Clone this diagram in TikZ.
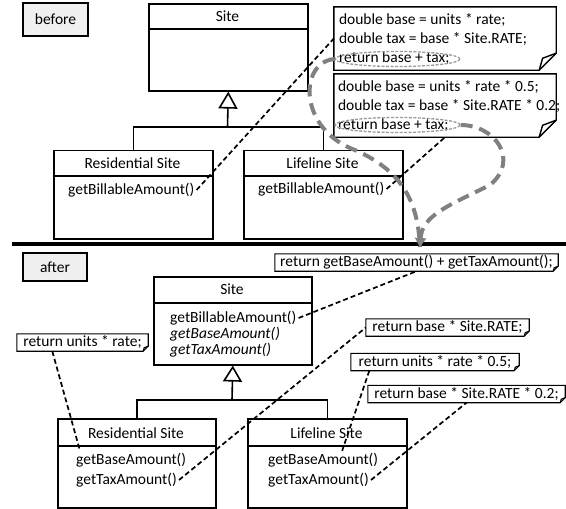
\documentclass[tikz,border=0pt]{standalone}
\usepackage{fontspec}
\setmainfont{Carlito}
\usetikzlibrary{arrows.meta,shapes.geometric,calc}

\newcommand{\dogear}[3][]{%
  \draw[#1] (#2.north west) -- (#2.north east) -- ([yshift=#3]#2.south east) -- ([xshift=-#3]#2.south east) -- (#2.south west) -- cycle;
  \draw[#1] ([xshift=-#3]#2.south east) -- ([xshift=-0.8*#3,yshift=0.7*#3]#2.south east) -- ([yshift=#3]#2.south east);}

\begin{document}
\begin{tikzpicture}[x=1pt,y=-1pt,line join=miter,
    every node/.style={font=\fontsize{15.5}{19}\selectfont},
    cls/.style={draw,line width=1.6pt,anchor=north west,inner sep=0pt},
    tag/.style={draw,line width=1.6pt,fill=black!6,inner sep=0pt},
    meth/.style={anchor=west,inner sep=2pt},
    memo/.style={inner sep=0pt,minimum width=222pt,minimum height=63pt},
    memotext/.style={anchor=west,inner sep=0pt,align=left},
    tip/.style={inner sep=0pt,text height=11.5pt,text depth=3.5pt,minimum height=17pt},
    link/.style={line width=1.7pt,dash pattern=on 5pt off 3pt},
    flow/.style={draw=black!50,line width=4pt,dash pattern=on 12pt off 7pt},
    ring/.style={ellipse,draw=black!40,line width=1.3pt,dash pattern=on 3pt off 1.5pt,inner sep=0pt}]
\useasboundingbox (0,0) rectangle (566,509);

% before
\node[tag,minimum width=65pt,minimum height=33pt] (before) at (55.5,19.5) {before};
\node[cls,minimum width=159pt,minimum height=87pt] (siteA) at (148,3) {};
\draw[line width=1.6pt] ([yshift=-26pt]siteA.north west) -- ([yshift=-26pt]siteA.north east);
\node (siteA-name) at (227.5,16) {Site};

\node[cls,minimum width=159pt,minimum height=88.5pt] (resA) at (53,149.5) {};
\draw[line width=1.6pt] ([yshift=-26.5pt]resA.north west) -- ([yshift=-26.5pt]resA.north east);
\node (resA-name) at (132.5,163) {Residential Site};
\node[meth] (resA-bill) at (66,190) {getBillableAmount()};

\node[cls,minimum width=159pt,minimum height=88.5pt] (llA) at (243,149.5) {};
\draw[line width=1.6pt] ([yshift=-26.5pt]llA.north west) -- ([yshift=-26.5pt]llA.north east);
\node (llA-name) at (322.5,163) {Lifeline Site};
\node[meth] (llA-bill) at (256,189) {getBillableAmount()};

\coordinate (hubA) at (227.5,127);
\draw[line width=1.6pt] (resA.north) |- (hubA) -| (llA.north);
\draw[line width=1.6pt,-{Triangle[open,length=17pt,width=19pt]}] (hubA) -- (siteA.south);

\node[memo] (noteA) at (445,38.5) {};
\node[memotext] (noteA-text) at ([xshift=5pt]noteA.west) {double base = units * rate;\\double tax = base * Site.RATE;\\return base + tax;};
\dogear[line width=1.4pt]{noteA}{17pt}
\node[ring,minimum width=125pt,minimum height=15pt] (ringA) at (397.5,59) {};

\node[memo] (noteB) at (445,105.5) {};
\node[memotext] (noteB-text) at ([xshift=4pt]noteB.west) {double base = units * rate * 0.5;\\double tax = base * Site.RATE * 0.2;\\return base + tax;};
\dogear[line width=1.4pt]{noteB}{17pt}
\node[ring,minimum width=125pt,minimum height=15pt] (ringB) at (397.5,125) {};

\draw[link] (resA-bill.east) -- (noteA.west);
\draw[link] (llA-bill.east) -- (noteB.south);

\draw[line width=3.5pt] (12,244) -- (566,244);

% after
\node[tag,minimum width=64pt,minimum height=28pt] (after) at (55,267) {after};
\node[cls,minimum width=158pt,minimum height=88pt] (siteB) at (153,276) {};
\draw[line width=1.6pt] ([yshift=-27pt]siteB.north west) -- ([yshift=-27pt]siteB.north east);
\node (siteB-name) at (232,289.5) {Site};
\node[meth] (siteB-bill) at (168,318) {getBillableAmount()};
\node[meth,font=\fontsize{15.5}{19}\selectfont\itshape] (siteB-base) at (168,334.5) {getBaseAmount()};
\node[meth,font=\fontsize{15.5}{19}\selectfont\itshape] (siteB-tax) at (168,350.5) {getTaxAmount()};

\node[cls,minimum width=158pt,minimum height=89pt] (resB) at (57,418) {};
\draw[line width=1.6pt] ([yshift=-28pt]resB.north west) -- ([yshift=-28pt]resB.north east);
\node (resB-name) at (136,433) {Residential Site};
\node[meth] (resB-base) at (74,460) {getBaseAmount()};
\node[meth] (resB-tax) at (74,480) {getTaxAmount()};

\node[cls,minimum width=159pt,minimum height=89pt] (llB) at (247,418) {};
\draw[line width=1.6pt] ([yshift=-28pt]llB.north west) -- ([yshift=-28pt]llB.north east);
\node (llB-name) at (326.5,433) {Lifeline Site};
\node[meth] (llB-base) at (266,460) {getBaseAmount()};
\node[meth] (llB-tax) at (266,480) {getTaxAmount()};

\coordinate (hubB) at (232,400);
\draw[line width=1.6pt] (resB.north) |- (hubB) -| (llB.north);
\draw[line width=1.6pt,-{Triangle[open,length=16pt,width=19pt]}] (hubB) -- (siteB.south);

\node[tip,minimum width=131pt] (nUnits) at (82.5,342.5) {return units * rate;};
\dogear[line width=1.1pt]{nUnits}{5pt}
\node[tip,minimum width=283pt] (nGet) at (416.5,262.5) {return getBaseAmount() + getTaxAmount();};
\dogear[line width=1.1pt]{nGet}{5pt}
\node[tip,minimum width=163pt] (nBase) at (447.5,327.5) {return base * Site.RATE;};
\dogear[line width=1.1pt]{nBase}{5pt}
\node[tip,minimum width=168pt] (nHalf) at (435,362) {return units * rate * 0.5;};
\dogear[line width=1.1pt]{nHalf}{5pt}
\node[tip,minimum width=197pt] (nFifth) at (466.5,394) {return base * Site.RATE * 0.2;};
\dogear[line width=1.1pt]{nFifth}{5pt}

\draw[link] ($(nUnits.south west)!0.27!(nUnits.south east)$) -- ([xshift=6pt]resB-base.north west);
\draw[link] (resB-tax.east) -- (nBase.west);
\draw[link] (siteB-bill.east) -- (nGet.south);
\draw[link] ($(nHalf.south west)!0.11!(nHalf.south east)$) -- ($(llB-base.north)+(19,0)$);
\draw[link] (llB-tax.east) -- (nFifth.south);

\coordinate (merge) at (420,247);
\draw[flow] (ringA.west) .. controls (300,62) and (298,125) .. (350,148) .. controls (405,170) and (418,205) .. (merge);
\draw[flow,-{Triangle[length=9pt,width=11pt]}] (ringB.east) .. controls (495,125) and (520,160) .. (490,185) .. controls (450,205) and (422,215) .. (merge);
\end{tikzpicture}
\end{document}
